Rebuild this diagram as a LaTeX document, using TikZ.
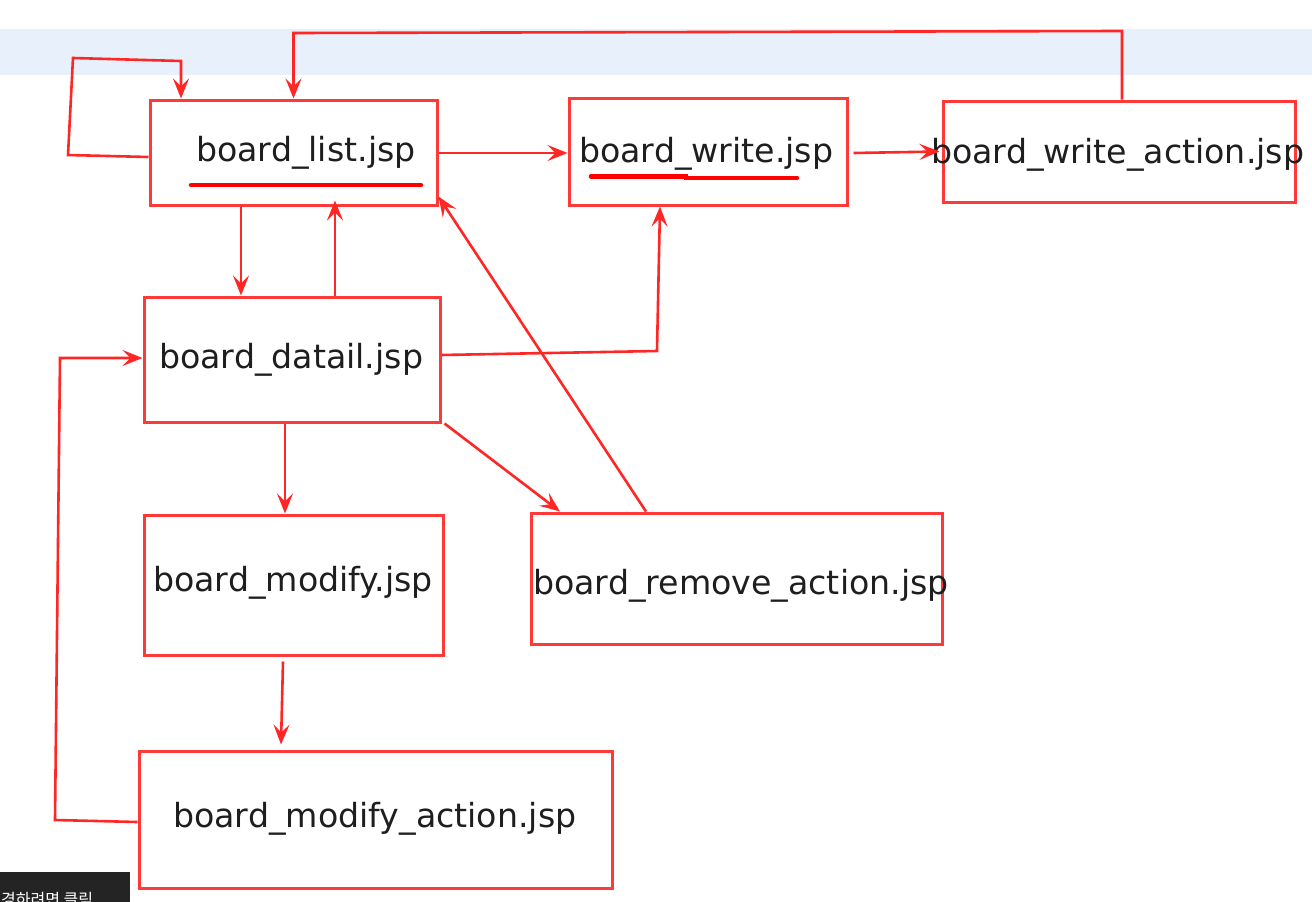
\documentclass[tikz,border=0pt]{standalone}
\usepackage{fontspec}
\setmainfont{DejaVu Sans}
\newfontfamily\krfont{Noto Sans CJK KR}
\usetikzlibrary{arrows.meta,positioning,calc}
\definecolor{BDRed}{HTML}{FF2626}
\definecolor{BDBox}{HTML}{FF3838}
\definecolor{BDInk}{HTML}{1E1E1E}
\definecolor{BDBand}{HTML}{E8F0FB}
\definecolor{BDTip}{HTML}{242424}
\tikzset{
  flow/.style={-{Stealth[length=20pt,width=16pt,inset=8pt]},BDRed,line width=2.6pt},
  page/.style={draw=BDBox,line width=3pt,fill=white},
  pagename/.style={text=BDInk,font=\fontsize{33.2}{40}\selectfont,
                   anchor=base west,inner sep=0pt},
  underline/.style={red,line width=4.5pt,line cap=round},
}

\begin{document}
\begin{tikzpicture}[x=1pt,y=-1pt]
    \useasboundingbox (0,0) rectangle (1312,902);
    \fill[BDBand] (0,29) rectangle (1312,75);

    % ------------------------------------------------------------------ pages
    \node[page,minimum width=287,minimum height=105] (list)         at (293.5,152.5) {};
    \node[page,minimum width=278,minimum height=107] (write)        at (708,151.5)   {};
    \node[page,minimum width=352,minimum height=101] (writeaction)  at (1119,151.5)  {};
    \node[page,minimum width=296,minimum height=125] (detail)       at (292,359.5)   {};
    \node[page,minimum width=299,minimum height=140] (modify)       at (293.5,585)   {};
    \node[page,minimum width=411,minimum height=131] (removeaction) at (736.5,578.5) {};
    \node[page,minimum width=473,minimum height=137] (modifyaction) at (375.5,819.5) {};

    \node[pagename] (listname)         at (196,161) {board\_list.jsp};
    \node[pagename] (writename)        at (579,162) {board\_write.jsp};
    \node[pagename] (writeactionname)  at (931,163) {board\_write\_action.jsp};
    \node[pagename] (detailname)       at (159,368) {board\_datail.jsp};
    \node[pagename] (modifyname)       at (153,591) {board\_modify.jsp};
    \node[pagename] (removeactionname) at (533,594) {board\_remove\_action.jsp};
    \node[pagename] (modifyactionname) at (173,827) {board\_modify\_action.jsp};

    \draw[underline] (191,185) -- (421,185);
    \draw[underline] (591,176.5) -- (686,176.5) -- (686,178) -- (797,178);

    % ------------------------------------------------------------- connectors
    \draw[flow] ([yshift=-4.5pt]list.west) -- (68,155) -- (73,58) -- (181,61)
      -- (181,0 |- list.north);
    \draw[flow] (1122,0 |- writeaction.north) -- (1122,31) -- (293.5,33) -- (list.north);
    \draw[flow] (list.east |- 0,153) -- (write.west |- 0,153);
    \draw[flow] ([xshift=5pt,yshift=-1.5pt]write.east) -- ([xshift=-2pt]writeaction.west);
    \draw[flow] (241,0 |- list.south) -- (241,0 |- detail.north);
    \draw[flow] (335,0 |- detail.north) -- ([yshift=6pt]335,0 |- list.south);
    \draw[flow] (detail.east |- 0,355) -- (657,351) -- (660,0 |- write.south);
    \draw[flow] (646,0 |- removeaction.north) -- ([yshift=10pt]list.south east);
    \draw[flow] ([xshift=3pt]detail.south east) -- (560,0 |- removeaction.north);
    \draw[flow] (285,0 |- detail.south) -- (285,0 |- modify.north);
    \draw[flow] ($(283,0 |- modify.south)+(0,5)$) -- ([yshift=5pt]281,0 |- modifyaction.north);
    \draw[flow] (modifyaction.west |- 0,822) -- (55,820) -- (60,358) -- (detail.west |- 0,358);

    % ---------------------------------------------------------------- tooltip
    \begin{scope}
      \clip (0,0) rectangle (1312,902);
      \fill[BDTip] (0,872) rectangle (130,902);
      \node[text=white,font=\krfont\fontsize{16}{18}\selectfont,anchor=base west,
            inner sep=0pt] (tiptext) at (1,905) {경하려면 클릭};
    \end{scope}
  \end{tikzpicture}
\end{document}
